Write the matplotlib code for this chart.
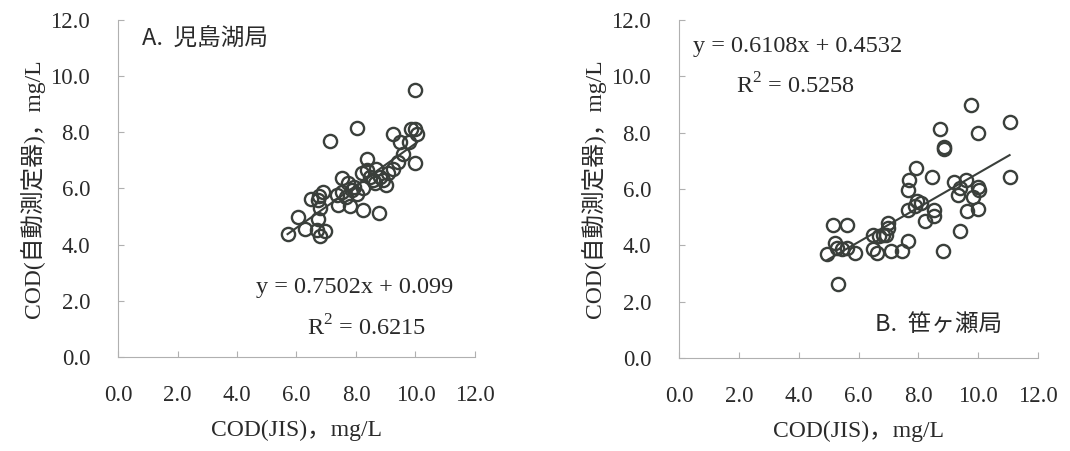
import numpy as np
import matplotlib
matplotlib.use("Agg")
import matplotlib.pyplot as plt

plt.rcParams['font.family'] = ['Liberation Serif', 'Noto Sans CJK JP']
plt.rcParams['mathtext.fontset'] = 'custom'
plt.rcParams['mathtext.rm'] = 'Liberation Serif'

# A. 児島湖局 : COD(JIS) vs COD(自動測定器)
kojima_x = [5.70, 6.06, 6.30, 6.50, 6.72, 6.90, 6.78, 6.72, 6.68, 6.78, 6.95, 6.75,
            7.11, 7.35, 7.52, 7.52, 7.68, 7.85, 8.02, 7.38, 7.80, 8.25, 7.74, 7.93,
            8.04, 8.36, 8.20, 8.36, 8.47, 8.58, 8.25, 8.64, 8.66, 8.78, 8.81, 8.92,
            9.01, 9.09, 9.25, 9.25, 9.42, 9.48, 9.59, 9.79, 9.85, 10.00, 10.05, 9.98,
            10.00]
kojima_y = [4.38, 5.00, 4.55, 5.62, 5.60, 5.88, 5.30, 4.90, 4.52, 4.30, 4.50, 5.75,
            7.69, 5.77, 5.88, 6.36, 5.71, 5.94, 5.80, 5.41, 5.38, 5.22, 6.18, 6.06,
            8.17, 7.06, 6.55, 6.65, 6.42, 6.30, 6.00, 6.18, 6.71, 5.12, 6.42, 6.30,
            6.12, 6.54, 6.68, 7.94, 6.95, 7.65, 7.22, 7.65, 8.12, 8.12, 7.95, 6.91,
            9.52]
kojima_fit = (0.7502, 0.099, 0.6215)

# B. 笹ヶ瀬局
sasagase_x = [4.94, 5.16, 5.61, 5.20, 5.27, 5.61, 5.44, 5.89, 5.33,
              6.48, 6.67, 6.83, 6.92, 7.00, 7.00, 6.48, 6.61, 7.08, 7.47, 7.64,
              7.64, 7.64, 7.69, 7.92, 7.89, 7.95, 8.08, 8.23, 8.51, 8.53, 8.44,
              8.73, 8.86, 8.86, 8.84, 9.20, 9.40, 9.34, 9.40, 9.60, 9.62, 9.76,
              9.82, 10.01, 10.03, 10.01, 10.01, 11.05, 11.05]
sasagase_y = [3.70, 4.73, 4.73, 4.08, 3.90, 3.90, 3.87, 3.72, 2.63,
              4.35, 4.32, 4.35, 4.38, 4.79, 4.60, 3.87, 3.72, 3.81, 3.81, 4.15,
              5.24, 5.95, 6.31, 6.73, 5.40, 5.56, 5.50, 4.88, 5.24, 5.03, 6.43,
              8.14, 7.50, 7.43, 3.80, 6.24, 6.04, 5.77, 4.50, 6.31, 5.21, 8.97,
              5.72, 6.07, 5.98, 5.29, 7.97, 8.39, 6.42]
sasagase_fit = (0.6108, 0.4532, 0.5258)

ticks = np.arange(0, 12.1, 2.0)
ink = '#2a2a2a'
mark = '#3a3f3b'

fig = plt.figure(figsize=(10.7, 4.51), dpi=100)
ax1 = fig.add_axes([0.1103, 0.2084, 0.3336, 0.7473])
ax2 = fig.add_axes([0.6346, 0.2062, 0.3355, 0.7495])


def panel(ax, x, y, fit):
    slope, icpt, r2 = fit
    ax.plot(x, y, 'o', ms=9.5, mfc='none', mec=mark, mew=1.7, zorder=3)
    xs = np.array([min(x), max(x)])
    ax.plot(xs, slope * xs + icpt, color=mark, lw=1.5, zorder=2)
    ax.set_xlim(0, 12)
    ax.set_ylim(0, 12)
    ax.set_xticks(ticks)
    ax.set_yticks(ticks)
    ax.set_xticklabels(['%.1f' % t for t in ticks])
    ax.set_yticklabels(['%.1f' % t for t in ticks])
    for s in ['top', 'right']:
        ax.spines[s].set_visible(False)
    for s in ['left', 'bottom']:
        ax.spines[s].set_color('#b0b0b0')
        ax.spines[s].set_linewidth(0.8)
    ax.tick_params(direction='in', length=4, width=0.8, color='#b0b0b0',
                   labelsize=16.5, labelcolor=ink)
    ax.tick_params(axis='y', pad=20)
    ax.tick_params(axis='x', pad=20)
    ax.set_xlabel('COD(JIS)，mg/L', fontsize=17, color=ink, labelpad=10)
    ax.set_ylabel('COD(自動測定器)，mg/L', fontsize=17, color=ink, labelpad=4)


panel(ax1, kojima_x, kojima_y, kojima_fit)
panel(ax2, sasagase_x, sasagase_y, sasagase_fit)

sans = ['Noto Sans CJK JP', 'DejaVu Sans']
ax1.text(0.8, 11.3, 'A.  児島湖局', fontsize=17, family=sans, color=ink, va='center')
ax2.text(6.55, 1.2, 'B.  笹ヶ瀬局', fontsize=17, family=sans, color=ink, va='center')

ax1.text(7.97, 2.46, 'y = %.4fx + %.3f' % (kojima_fit[0], kojima_fit[1]),
         fontsize=17.5, color=ink, ha='center', va='center')
ax1.text(8.35, 1.05, r'R$^\mathregular{2}$ = %.4f' % kojima_fit[2],
         fontsize=17.5, color=ink, ha='center', va='center')
ax2.text(3.95, 11.05, 'y = %.4fx + %.4f' % (sasagase_fit[0], sasagase_fit[1]),
         fontsize=17.5, color=ink, ha='center', va='center')
ax2.text(3.88, 9.65, r'R$^\mathregular{2}$ = %.4f' % sasagase_fit[2],
         fontsize=17.5, color=ink, ha='center', va='center')

fig.savefig('out.png', dpi=100)
